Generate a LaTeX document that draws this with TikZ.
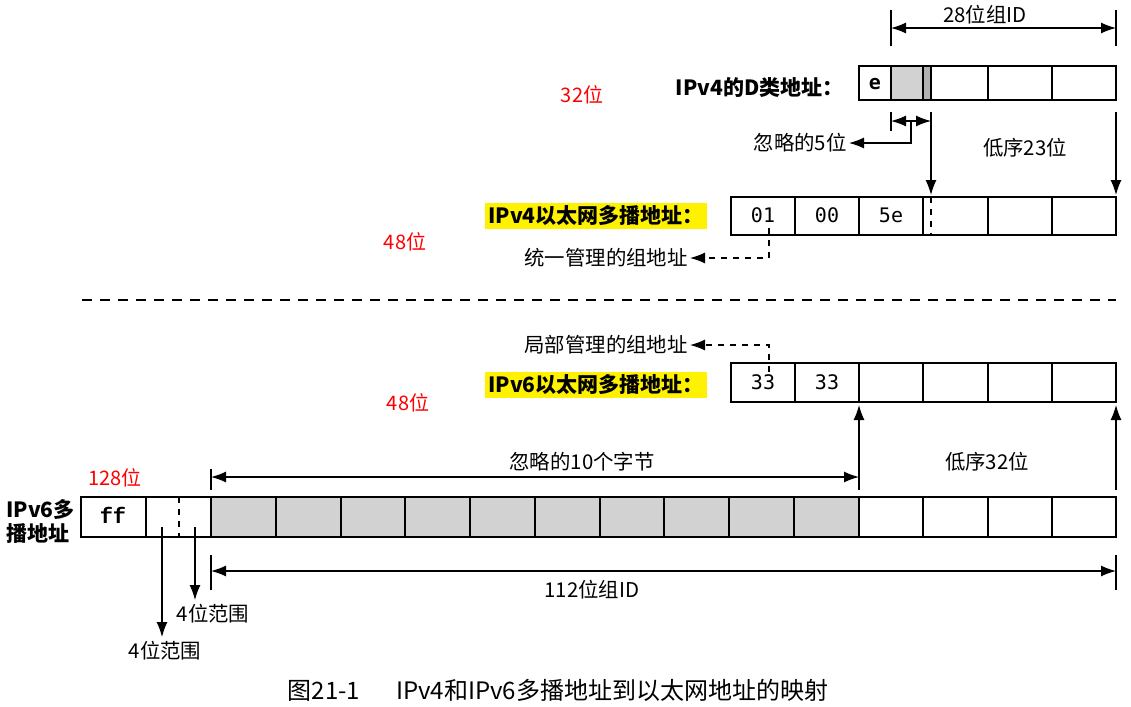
\documentclass[tikz,border=0pt]{standalone}
\usepackage{fontspec}
\setmainfont{Noto Sans CJK SC}
\setmonofont{DejaVu Sans Mono}
\newfontfamily\ffont{Liberation Mono}
\usetikzlibrary{arrows.meta}

\tikzset{
  field/.style={draw, line width=0.9pt},
  dim/.style={line width=0.65pt},
  lbl/.style={font=\fontsize{10.2}{12}\selectfont, inner sep=1pt},
  bold/.style={font=\fontsize{10.5}{12}\selectfont\bfseries, inner sep=1.5pt},
  hl/.style={bold, fill=yellow},
  bits/.style={text=red, font=\fontsize{10}{12}\selectfont, inner sep=1pt},
  hex/.style={font=\ttfamily\fontsize{10}{11}\selectfont, inner sep=1pt},
}

\begin{document}
\begin{tikzpicture}[x=0.5pt, y=-0.5pt, >={Latex[length=7.5pt,width=5.5pt]}]
\useasboundingbox[fill=white] (0,0) rectangle (1131,707);

% IPv4 class D address
\fill[gray!35] (891,66) rectangle (923,100);
\fill[gray!60] (923,66) rectangle (931,100);
\draw[field] (859,66) rectangle (1116,100);
\draw[field] (891,66) -- (891,100);
\draw[field] (923,66) -- (923,100);
\draw[field] (931,66) -- (931,100);
\draw[field] (988,66) -- (988,100);
\draw[field] (1052,66) -- (1052,100);
\node[hex, font=\ttfamily\bfseries\fontsize{10}{11}\selectfont] (e) at (875,84) {e};
\node[bold, anchor=east] (d4) at (847,88) {IPv4的D类地址：};
\node[bits] (b32) at (582,95) {32位};

% 28 bit group id
\coordinate (g28a) at (891,28);
\coordinate (g28b) at (1116,28);
\draw[dim] (891,10) -- (891,46);
\draw[dim] (1116,10) -- (1116,46);
\draw[dim, <->] (g28a) -- (g28b);
\node[lbl] (g28) at (985,15) {28位组ID};

% 5 bits ignored
\coordinate (i5a) at (891,121);
\coordinate (i5b) at (931,121);
\coordinate (i5m) at (911,121);
\coordinate (i5t) at (849,143);
\draw[dim] (891,112) -- (891,131);
\draw[dim, <->] (i5a) -- (i5b);
\draw[dim, ->] (i5m) -- (911,143) -- (i5t);
\node[lbl, anchor=east] (i5) at (i5t) {忽略的5位};

% low 23 bits
\coordinate (l23a) at (931,112);
\coordinate (l23b) at (931,195);
\coordinate (l23c) at (1116,112);
\coordinate (l23d) at (1116,195);
\draw[dim, ->] (l23a) -- (l23b);
\draw[dim, ->] (l23c) -- (l23d);
\node[lbl] (l23) at (1025,148) {低序23位};

% IPv4 ethernet address
\draw[field] (731,197) rectangle (1116,235);
\draw[field] (795,197) -- (795,235);
\draw[field] (859,197) -- (859,235);
\draw[field] (923,197) -- (923,235);
\draw[field, dashed] (931,197) -- (931,235);
\draw[field] (988,197) -- (988,235);
\draw[field] (1052,197) -- (1052,235);
\node[hex] (e01) at (763,215) {01};
\node[hex] (e00) at (827,215) {00};
\node[hex] (e5e) at (891,215) {5e};
\node[hl, anchor=east] (eth4) at (707,216) {IPv4以太网多播地址：};
\node[bits] (b48a) at (405,242) {48位};

\coordinate (u1) at (769,228);
\coordinate (u2) at (690,258);
\draw[dim, dashed, ->] (u1) -- (769,258) -- (u2);
\node[lbl, anchor=east] (uni) at (u2) {统一管理的组地址};

% separator
\draw[dim, dash pattern=on 5pt off 4pt] (82,300) -- (1116,300);

% IPv6 ethernet address
\draw[field] (731,363) rectangle (1116,402);
\draw[field] (795,363) -- (795,402);
\draw[field] (859,363) -- (859,402);
\draw[field] (923,363) -- (923,402);
\draw[field] (988,363) -- (988,402);
\draw[field] (1052,363) -- (1052,402);
\node[hex] (e33a) at (763,382) {33};
\node[hex] (e33b) at (827,382) {33};
\node[hl, anchor=east] (eth6) at (707,385) {IPv6以太网多播地址：};
\node[bits] (b48b) at (408,403) {48位};

\coordinate (k1) at (769,372);
\coordinate (k2) at (690,345);
\draw[dim, dashed, ->] (k1) -- (769,345) -- (k2);
\node[lbl, anchor=east] (loc) at (k2) {局部管理的组地址};

% low 32 bits
\coordinate (l32a) at (859,490);
\coordinate (l32b) at (859,405);
\coordinate (l32c) at (1116,490);
\coordinate (l32d) at (1116,405);
\draw[dim, ->] (l32a) -- (l32b);
\draw[dim, ->] (l32c) -- (l32d);
\node[lbl] (l32) at (987,462) {低序32位};

% 10 bytes ignored
\coordinate (i10a) at (211,477);
\coordinate (i10b) at (859,477);
\draw[dim] (211,469) -- (211,490);
\draw[dim, <->] (i10a) -- (i10b);
\node[lbl] (i10) at (582,462) {忽略的10个字节};

% IPv6 multicast address
\fill[gray!35] (211,497) rectangle (859,537);
\draw[field] (81,497) rectangle (1116,537);
\draw[field] (146,497) -- (146,537);
\draw[field, dashed] (179,497) -- (179,537);
\draw[field] (211,497) -- (211,537);
\draw[field] (276,497) -- (276,537);
\draw[field] (341,497) -- (341,537);
\draw[field] (405,497) -- (405,537);
\draw[field] (470,497) -- (470,537);
\draw[field] (535,497) -- (535,537);
\draw[field] (600,497) -- (600,537);
\draw[field] (664,497) -- (664,537);
\draw[field] (729,497) -- (729,537);
\draw[field] (794,497) -- (794,537);
\draw[field] (859,497) -- (859,537);
\draw[field] (923,497) -- (923,537);
\draw[field] (988,497) -- (988,537);
\draw[field] (1052,497) -- (1052,537);
\node[font=\ffont\bfseries\fontsize{11}{12}\selectfont, inner sep=1pt] (ff) at (113,515) {ff};
\node[bold, anchor=west, align=left] (v6) at (3,521) {IPv6多\\播地址};
\node[bits] (b128) at (115,478) {128位};

% 4 bit scopes
\coordinate (s1a) at (162,527);
\coordinate (s1b) at (162,637);
\coordinate (s2a) at (195,527);
\coordinate (s2b) at (195,600);
\draw[dim, ->] (s1a) -- (s1b);
\draw[dim, ->] (s2a) -- (s2b);
\node[lbl] (sc2) at (213,614) {4位范围};
\node[lbl] (sc1) at (165,651) {4位范围};

% 112 bit group id
\coordinate (g112a) at (211,571);
\coordinate (g112b) at (1116,571);
\draw[dim] (211,555) -- (211,590);
\draw[dim] (1116,555) -- (1116,590);
\draw[dim, <->] (g112a) -- (g112b);
\node[lbl] (g112) at (592,590) {112位组ID};

\node[font=\fontsize{12}{14}\selectfont] (cap) at (558,690) {图21-1\hspace{1.5em}IPv4和IPv6多播地址到以太网地址的映射};

\end{tikzpicture}
\end{document}
